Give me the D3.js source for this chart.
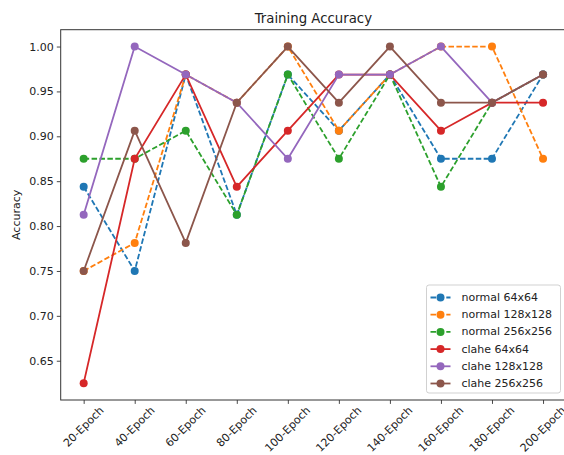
<!DOCTYPE html>
<html>
<head>
<meta charset="utf-8">
<script src="https://cdn.jsdelivr.net/npm/d3@7/dist/d3.min.js"></script>
<style>
  html, body { margin: 0; padding: 0; background: #fff; }
  svg { display: block; }
  text { font-family: "DejaVu Sans", sans-serif; fill: #222; }
</style>
</head>
<body>
<svg id="chart" width="564" height="455"></svg>
<script>
// ---- data ----
const categories = ["20-Epoch","40-Epoch","60-Epoch","80-Epoch","100-Epoch","120-Epoch","140-Epoch","160-Epoch","180-Epoch","200-Epoch"];
const normal64  = [0.84375, 0.75,    0.96875, 0.8125,  0.96875, 0.90625, 0.96875, 0.875,   0.875,   0.96875];
const normal128 = [0.75,    0.78125, 0.96875, 0.9375,  1.0,     0.90625, 0.96875, 1.0,     1.0,     0.875];
const normal256 = [0.875,   0.875,   0.90625, 0.8125,  0.96875, 0.875,   0.96875, 0.84375, 0.9375,  0.96875];
const clahe64   = [0.625,   0.875,   0.96875, 0.84375, 0.90625, 0.96875, 0.96875, 0.90625, 0.9375,  0.9375];
const clahe128  = [0.8125,  1.0,     0.96875, 0.9375,  0.875,   0.96875, 0.96875, 1.0,     0.9375,  0.96875];
const clahe256  = [0.75,    0.90625, 0.78125, 0.9375,  1.0,     0.9375,  1.0,     0.9375,  0.9375,  0.96875];
const seriesNames = ["normal 64x64","normal 128x128","normal 256x256","clahe 64x64","clahe 128x128","clahe 256x256"];
const yTicks = [0.65, 0.70, 0.75, 0.80, 0.85, 0.90, 0.95, 1.00];
const titleText = "Training Accuracy";
const yLabel = "Accuracy";

// ---- styling ----
const seriesValues = [normal64, normal128, normal256, clahe64, clahe128, clahe256];
const colors = ["#1f77b4","#ff7f0e","#2ca02c","#d62728","#9467bd","#8c564b"];
const dashed = [true, true, true, false, false, false];
const dash = "5.5,2.4";

const svg = d3.select("#chart");
const L = 60.7, R = 566, T = 29.7, B = 400;

const x = d3.scalePoint().domain(categories).range([L, R]).padding(0.45);
const y = d3.scaleLinear().domain([0.60625, 1.01875]).range([B, T]);

// title
svg.append("text").attr("x", (L + R) / 2).attr("y", 23)
  .attr("text-anchor", "middle").style("font-size", "13.3px").text(titleText);

// y axis
const gy = svg.append("g").attr("transform", `translate(${L},0)`)
  .call(d3.axisLeft(y).tickValues(yTicks).tickFormat(d3.format(".2f")).tickSize(3.9).tickPadding(3));
gy.select(".domain").remove();
gy.selectAll(".tick line").attr("stroke", "#333").attr("stroke-width", 0.9);
gy.selectAll(".tick text").style("font-size", "11px").style("font-family", "DejaVu Sans").attr("fill", "#222");

// x axis
const gx = svg.append("g").attr("transform", `translate(0,${B})`)
  .call(d3.axisBottom(x).tickSize(3.9).tickFormat(""));
gx.select(".domain").remove();
gx.selectAll(".tick line").attr("stroke", "#333").attr("stroke-width", 0.9);

// rotated x labels (centered bounding boxes like matplotlib rotation=45)
const labG = svg.append("g");
categories.forEach(c => {
  const t = labG.append("text").style("font-size", "11px").attr("text-anchor", "middle")
    .attr("dominant-baseline", "central").text(c);
  const w = t.node().getComputedTextLength();
  const h = 9;
  const bb = (w + h) * Math.SQRT1_2;
  const cx = x(c), cy = B + 3.9 + 1.5 + bb / 2;
  t.attr("transform", `translate(${cx},${cy}) rotate(-45)`);
});

// y label
svg.append("text").attr("transform", `translate(16,${(T + B) / 2}) rotate(-90)`)
  .attr("text-anchor", "middle").attr("dominant-baseline", "central")
  .style("font-size", "11px").text(yLabel);

// series
const plotG = svg.append("g");
const line = d3.line().x((d, i) => x(categories[i])).y(d => y(d));
seriesValues.forEach((vals, s) => {
  const g = plotG.append("g");
  g.append("path").datum(vals).attr("d", line).attr("fill", "none")
    .attr("stroke", colors[s]).attr("stroke-width", 1.8)
    .attr("stroke-dasharray", dashed[s] ? dash : null);
  g.selectAll("circle").data(vals).enter().append("circle")
    .attr("cx", (d, i) => x(categories[i])).attr("cy", d => y(d))
    .attr("r", 4).attr("fill", colors[s]);
});

// frame
svg.append("rect").attr("x", L).attr("y", T).attr("width", R - L).attr("height", B - T)
  .attr("fill", "none").attr("stroke", "#333").attr("stroke-width", 1);

// legend
const lgX = 426.5, lgY = 285, lgW = 134, lgH = 108;
const lg = svg.append("g");
lg.append("rect").attr("x", lgX).attr("y", lgY).attr("width", lgW).attr("height", lgH)
  .attr("rx", 2.5).attr("fill", "#fff").attr("fill-opacity", 0.8).attr("stroke", "#ccc").attr("stroke-width", 0.9);
seriesNames.forEach((n, s) => {
  const ry = lgY + 12.5 + s * 17.2;
  lg.append("line").attr("x1", lgX + 4).attr("x2", lgX + 24).attr("y1", ry).attr("y2", ry)
    .attr("stroke", colors[s]).attr("stroke-width", 1.8)
    .attr("stroke-dasharray", dashed[s] ? dash : null);
  lg.append("circle").attr("cx", lgX + 14).attr("cy", ry).attr("r", 4).attr("fill", colors[s]);
  lg.append("text").attr("x", lgX + 35).attr("y", ry).attr("dominant-baseline", "central")
    .style("font-size", "11px").text(n);
});
</script>
</body>
</html>
